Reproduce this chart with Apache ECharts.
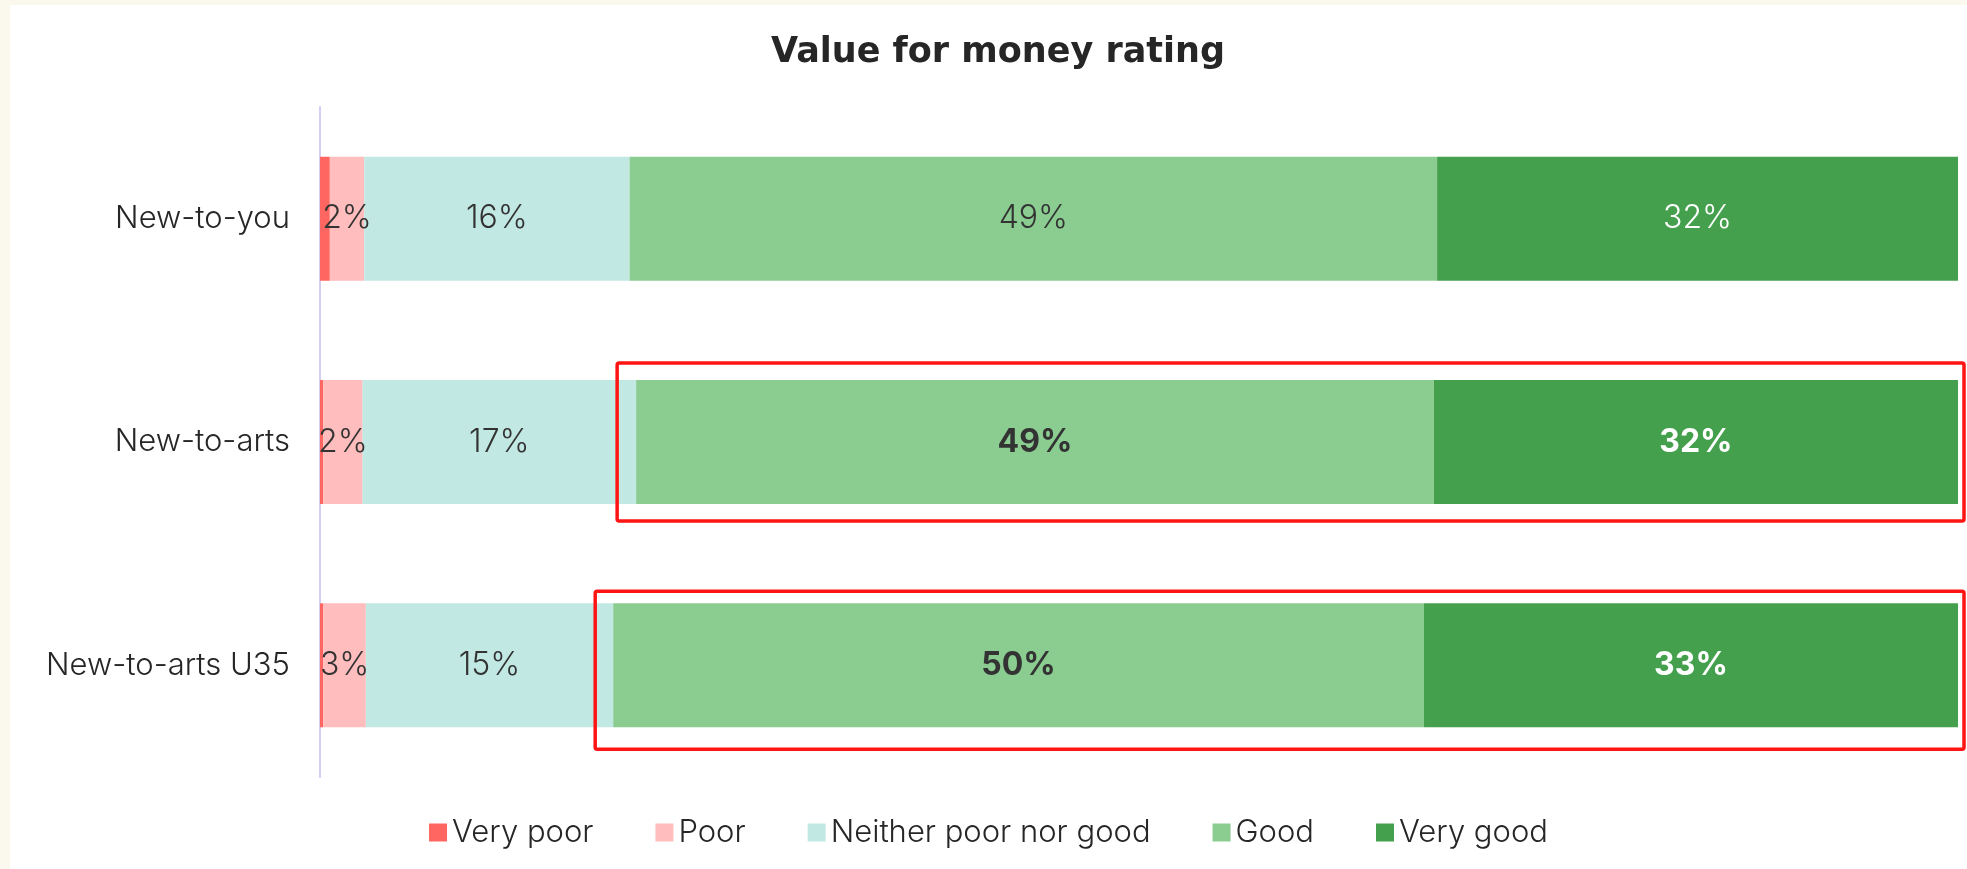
<!DOCTYPE html>
<html>
<head>
<meta charset="utf-8">
<title>Value for money rating</title>
<script src="https://cdn.jsdelivr.net/npm/echarts@6/dist/echarts.min.js"></script>
<style>
  html, body { margin: 0; padding: 0; background: #fbf9ee; }
  #chart {
    position: absolute;
    left: 10px;
    top: 5px;
    width: 1957px;
    height: 864px;
    background: #ffffff;
  }
</style>
</head>
<body>
<div id="chart"></div>
<script>
// 数据
const categories = ['New-to-you', 'New-to-arts', 'New-to-arts U35']
const seriesNames = ['Very poor', 'Poor', 'Neither poor nor good', 'Good', 'Very good']
const veryPoor = [0.6, 0.2, 0.2]
const poor = [2.1, 2.4, 2.6]
const neither = [16.2, 16.7, 15.1]
const good = [49.3, 48.7, 49.5]
const veryGood = [31.8, 32.0, 32.6]
// rows whose Good / Very good labels are bold and boxed in red
const highlightRows = [1, 2]

const colors = ['#ff6661', '#ffbdbd', '#c2e8e3', '#8bcd91', '#44a04d']
const labelColors = ['#333333', '#333333', '#333333', '#333333', '#ffffff']
const labelFont = 'Inter, "Noto Sans", sans-serif'
const titleFont = '"DejaVu Sans", sans-serif'

const chartInstance = echarts.init(document.getElementById('chart'))

const allValues = [veryPoor, poor, neither, good, veryGood]

const series = allValues.map((values, s) => ({
  name: seriesNames[s],
  type: 'bar',
  stack: 'total',
  barWidth: 124,
  itemStyle: { color: colors[s] },
  label: {
    show: true,
    position: 'inside',
    color: labelColors[s],
    fontSize: 32,
    fontWeight: 300,
    fontFamily: labelFont,
    formatter: p => (p.value < 1.5 ? '' : Math.round(p.value) + '%')
  },
  data: values.map((v, i) => {
    if (s >= 3 && highlightRows.includes(i)) {
      return { value: v, label: { fontWeight: 'bold' } }
    }
    return v
  })
}))

const option = {
  animation: false,
  textStyle: { fontFamily: labelFont },
  title: {
    text: 'Value for money rating',
    left: 988,
    textAlign: 'center',
    top: 30,
    padding: 0,
    textStyle: {
      fontSize: 35,
      fontWeight: 'bold',
      color: '#262626',
      fontFamily: titleFont
    }
  },
  legend: {
    data: seriesNames,
    bottom: 16,
    left: 'center',
    padding: [5, 5, 5, 20],
    itemWidth: 18,
    itemHeight: 18,
    itemGap: 62,
    icon: 'rect',
    textStyle: {
      fontSize: 31,
      fontWeight: 300,
      color: '#262626',
      fontFamily: labelFont
    }
  },
  grid: {
    left: 310,
    right: 9,
    top: 102,
    bottom: 92,
    containLabel: false
  },
  xAxis: {
    type: 'value',
    min: 0,
    max: 100,
    show: false
  },
  yAxis: {
    type: 'category',
    inverse: true,
    data: categories,
    axisLine: { show: true, lineStyle: { color: '#d6cdf6', width: 2 } },
    axisTick: { show: false },
    axisLabel: {
      margin: 30,
      fontSize: 31,
      fontWeight: 300,
      color: '#262626',
      fontFamily: labelFont
    }
  },
  series: series
}

chartInstance.setOption(option)

// 红框：围住 Good + Very good 两段
const boxPads = [
  { top: 17, bottom: 17, left: 19, right: 6 },
  { top: 12, bottom: 22, left: 18, right: 6 }
]
const boxes = highlightRows.map((row, k) => {
  const pad = boxPads[k]
  const startVal = veryPoor[row] + poor[row] + neither[row]
  const endVal = startVal + good[row] + veryGood[row]
  const x0 = chartInstance.convertToPixel({ xAxisIndex: 0 }, startVal) - pad.left
  const x1 = chartInstance.convertToPixel({ xAxisIndex: 0 }, endVal) + pad.right
  const yc = chartInstance.convertToPixel({ yAxisIndex: 0 }, row)
  const y0 = yc - 62 - pad.top
  const y1 = yc + 62 + pad.bottom
  return {
    type: 'rect',
    shape: { x: x0, y: y0, width: x1 - x0, height: y1 - y0, r: 2 },
    style: { fill: 'none', stroke: '#ff1414', lineWidth: 3.5 },
    z: 100
  }
})
chartInstance.setOption({ graphic: boxes })
</script>
</body>
</html>
